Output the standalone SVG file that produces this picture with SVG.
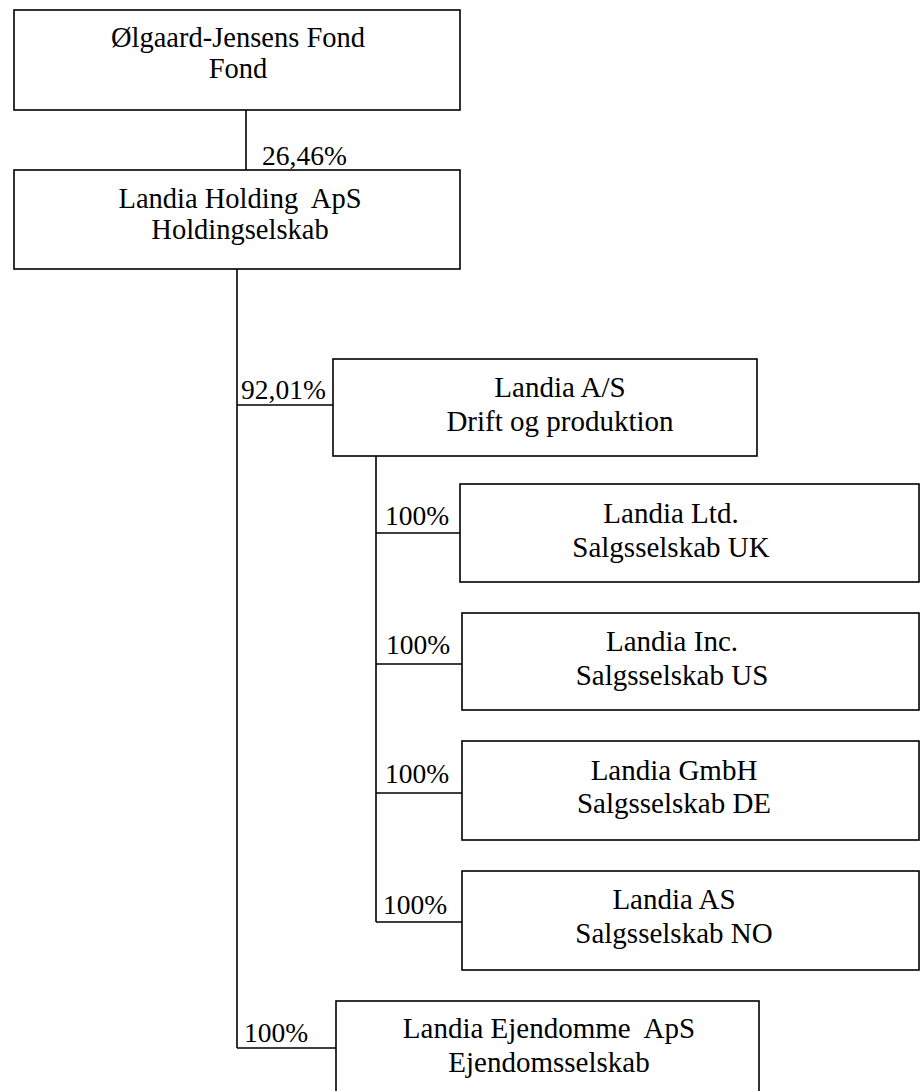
<svg xmlns="http://www.w3.org/2000/svg" width="920" height="1091" viewBox="0 0 920 1091">
<style>
.box{fill:#fff;stroke:#000;stroke-width:1.6}
.ln{fill:none;stroke:#000;stroke-width:1.6}
text{font-family:"Liberation Serif","Times New Roman",serif;font-size:27.5px;fill:#000}
.c{text-anchor:middle;font-size:29px}
.t{font-size:28.5px}
</style>
<rect width="920" height="1091" fill="#fff"/>
<g id="connectors">
<path class="ln" d="M246 110V170"/>
<path class="ln" d="M237 269V1048M237 405H333M237 1048H336"/>
<path class="ln" d="M376 456V922M376 533H460M376 664H462M376 793H462M376 922H462"/>
<text x="262" y="165">26,46%</text>
<text x="241" y="399">92,01%</text>
<text x="385" y="525">100%</text>
<text x="386" y="654">100%</text>
<text x="385" y="783">100%</text>
<text x="383" y="914">100%</text>
<text x="244" y="1042">100%</text>
</g>
<g id="n-fond">
<rect class="box" x="14" y="10" width="446" height="100"/>
<text class="c t" x="238" y="47">Ølgaard-Jensens Fond</text>
<text class="c t" x="238" y="78">Fond</text>
</g>
<g id="n-holding">
<rect class="box" x="14" y="170" width="446" height="99"/>
<text class="c t" x="240" y="208" xml:space="preserve">Landia Holding  ApS</text>
<text class="c t" x="240" y="239">Holdingselskab</text>
</g>
<g id="n-as">
<rect class="box" x="333" y="359" width="424" height="97"/>
<text class="c" x="560" y="397">Landia A/S</text>
<text class="c" x="560" y="431">Drift og produktion</text>
</g>
<g id="n-uk">
<rect class="box" x="460" y="484" width="459" height="98"/>
<text class="c" x="671" y="523">Landia Ltd.</text>
<text class="c" x="671" y="557">Salgsselskab UK</text>
</g>
<g id="n-us">
<rect class="box" x="462" y="613" width="457" height="97"/>
<text class="c" x="672" y="651">Landia Inc.</text>
<text class="c" x="672" y="685">Salgsselskab US</text>
</g>
<g id="n-de">
<rect class="box" x="462" y="741" width="457" height="99"/>
<text class="c" x="674" y="780">Landia GmbH</text>
<text class="c" x="674" y="813">Salgsselskab DE</text>
</g>
<g id="n-no">
<rect class="box" x="462" y="871" width="457" height="99"/>
<text class="c" x="674" y="909">Landia AS</text>
<text class="c" x="674" y="943">Salgsselskab NO</text>
</g>
<g id="n-ejendomme">
<rect class="box" x="336" y="1001" width="423" height="100"/>
<text class="c" x="549" y="1038" xml:space="preserve">Landia Ejendomme  ApS</text>
<text class="c" x="549" y="1072">Ejendomsselskab</text>
</g>
</svg>
